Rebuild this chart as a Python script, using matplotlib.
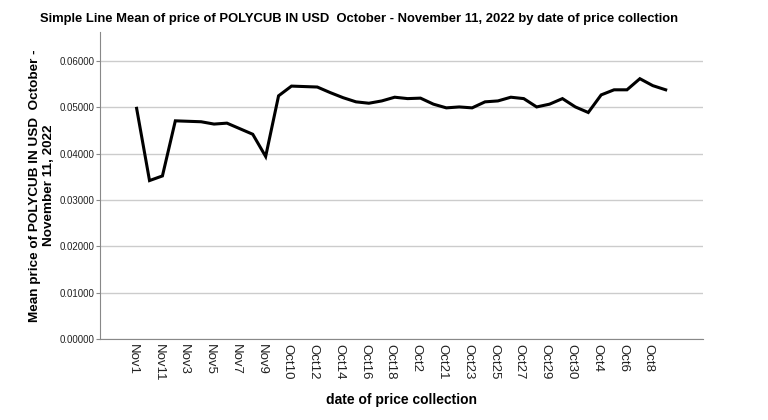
import matplotlib
matplotlib.use('Agg')
import matplotlib.pyplot as plt
from matplotlib.transforms import ScaledTranslation

plt.rcParams['font.family'] = ['Liberation Sans', 'DejaVu Sans']

# categories come sorted as text, the way the source tool sorts them
dates = ['Nov1', 'Nov10', 'Nov11', 'Nov2', 'Nov3', 'Nov4', 'Nov5', 'Nov6', 'Nov7', 'Nov8', 'Nov9',
         'Oct1', 'Oct10', 'Oct11', 'Oct12', 'Oct13', 'Oct14', 'Oct15', 'Oct16', 'Oct17', 'Oct18',
         'Oct19', 'Oct2', 'Oct20', 'Oct21', 'Oct22', 'Oct23', 'Oct24', 'Oct25', 'Oct26', 'Oct27',
         'Oct28', 'Oct29', 'Oct3', 'Oct30', 'Oct31', 'Oct4', 'Oct5', 'Oct6', 'Oct7', 'Oct8', 'Oct9']
mean_price = [0.0498, 0.0342, 0.0352, 0.0471, 0.0470, 0.0469, 0.0464, 0.0466, 0.0454, 0.0442,
              0.0394, 0.0525, 0.0546, 0.0545, 0.0544, 0.0532, 0.0521, 0.0512, 0.0509, 0.0514,
              0.0522, 0.0519, 0.0520, 0.0507, 0.0499, 0.0501, 0.0499, 0.0512, 0.0514, 0.0522,
              0.0519, 0.0501, 0.0507, 0.0519, 0.0501, 0.0489, 0.0527, 0.0538, 0.0538, 0.0562,
              0.0547, 0.0538]
y_ticks = [0.0, 0.01, 0.02, 0.03, 0.04, 0.05, 0.06]

fig = plt.figure(figsize=(7.68, 4.2), dpi=100)
ax = fig.add_axes([0.130, 0.193, 0.785, 0.731])

x = list(range(len(dates)))
ax.plot(x, mean_price, color='black', linewidth=2.2, solid_joinstyle='miter', zorder=3)

ax.set_xlim(-2.85, len(dates) - 1 + 2.87)
ax.set_ylim(0, 0.0663)
ax.set_yticks(y_ticks)
ax.set_yticklabels(['%.5f' % v for v in y_ticks], fontsize=7, color='#222222')
ax.set_xticks(x[::2])
ax.set_xticklabels(dates[::2], rotation=270, fontsize=9.5, color='#222222')
ax.tick_params(axis='x', length=0, pad=4)
ax.tick_params(axis='y', length=3, color='#888888', pad=1)
shift = ScaledTranslation(-4 / 100, 0, fig.dpi_scale_trans)
for lab in ax.get_xticklabels():
    lab.set_transform(lab.get_transform() + shift)

ax.grid(axis='y', color='#cccccc', linewidth=1)
ax.set_axisbelow(True)
for s in ['top', 'right']:
    ax.spines[s].set_visible(False)
for s in ['left', 'bottom']:
    ax.spines[s].set_color('#888888')

ax.set_xlabel('date of price collection', fontsize=10, fontweight='bold', labelpad=8)
ax.set_ylabel('Mean price of POLYCUB IN USD  October -\nNovember 11, 2022',
              fontsize=9.7, fontweight='bold', labelpad=3, linespacing=1.2)
fig.text(0.052, 0.955, 'Simple Line Mean of price of POLYCUB IN USD  October - November 11, 2022 by date of price collection',
         fontsize=9.4, fontweight='bold', ha='left', va='center')

fig.savefig('out.png', dpi=100)
